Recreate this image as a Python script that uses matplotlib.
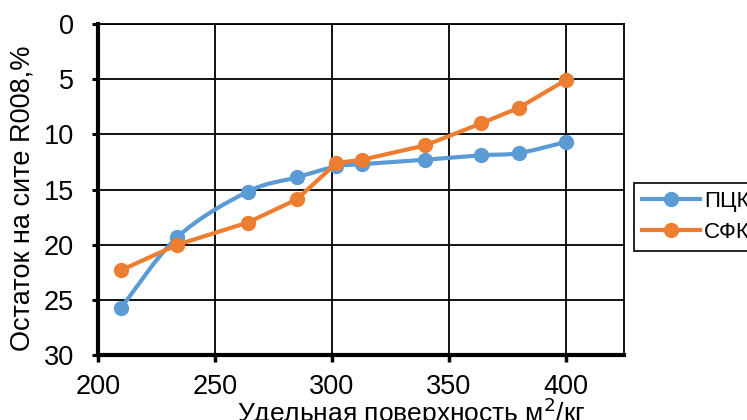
import matplotlib
matplotlib.use('Agg')
import matplotlib.pyplot as plt
from matplotlib.path import Path
from matplotlib.patches import PathPatch
from matplotlib.lines import Line2D
import numpy as np

plt.rcParams['font.family'] = ['Liberation Sans', 'DejaVu Sans']

# данные
surface = [210, 234, 264, 285, 302, 313, 340, 364, 380, 400]
pck = [25.7, 19.3, 15.2, 13.9, 12.9, 12.7, 12.3, 11.9, 11.7, 10.7]
sfk = [22.3, 20.0, 18.0, 15.9, 12.6, 12.3, 11.0, 9.0, 7.6, 5.1]
series_names = ['ПЦК', 'СФК']
xticks = [200, 250, 300, 350, 400]
yticks = [0, 5, 10, 15, 20, 25, 30]

blue = '#5B9BD5'
orange = '#ED7D31'


def smooth_path(x, y):
    # сглаженная линия как в Excel (Catmull-Rom -> Безье)
    p = np.column_stack([x, y]).astype(float)
    ext = np.vstack([p[0], p, p[-1]])
    verts = [p[0]]
    codes = [Path.MOVETO]
    for i in range(len(p) - 1):
        p0, p1, p2, p3 = ext[i], ext[i + 1], ext[i + 2], ext[i + 3]
        verts += [p1 + (p2 - p0) / 6, p2 - (p3 - p1) / 6, p2]
        codes += [Path.CURVE4] * 3
    return Path(verts, codes)


fig = plt.figure(figsize=(7.47, 4.2), dpi=100)
ax = fig.add_axes([98 / 747, 1 - 355 / 420, (624 - 98) / 747, (355 - 24) / 420])

ax.add_patch(PathPatch(smooth_path(surface, pck), fill=False, edgecolor=blue,
                       lw=3, capstyle='round', joinstyle='round', zorder=3))
ax.plot(surface, pck, 'o', color=blue, ms=10, zorder=3)
ax.plot(surface, sfk, '-o', color=orange, lw=3, ms=10, zorder=4,
        solid_capstyle='round')

ax.set_xlim(200, 425)
ax.set_ylim(30, 0)
ax.set_xticks(xticks)
ax.set_yticks(yticks)
ax.grid(True, color='black', lw=1.3)
ax.set_axisbelow(True)

for s in ['top', 'right']:
    ax.spines[s].set_linewidth(1.3)
for s in ['left', 'bottom']:
    ax.spines[s].set_linewidth(3)

ax.tick_params(axis='y', direction='out', length=4.5, width=2.2, pad=13,
               labelsize=19.5)
ax.tick_params(axis='x', direction='out', length=5, width=2.5, pad=9,
               labelsize=19.5)

fig.text(23 / 747, 1 - 198 / 420, 'Остаток на сите R008,%', rotation=90,
         ha='center', va='center', fontsize=19.5)
fig.text(411 / 747, 1 - 412 / 420, 'Удельная поверхность м$^2$/кг',
         ha='center', va='center', fontsize=19)

handles = [Line2D([], [], color=blue, lw=3, marker='o', ms=10),
           Line2D([], [], color=orange, lw=3, marker='o', ms=10)]
leg = fig.legend(handles, series_names, loc='upper left',
                 bbox_to_anchor=(634 / 747, 1 - 183 / 420), borderaxespad=0,
                 fontsize=16, handlelength=2.6, handletextpad=0.2,
                 labelspacing=0.45, fancybox=False, edgecolor='black',
                 framealpha=1, borderpad=0.35)
leg.get_frame().set_linewidth(1.2)

fig.savefig('out.png', dpi=100)
